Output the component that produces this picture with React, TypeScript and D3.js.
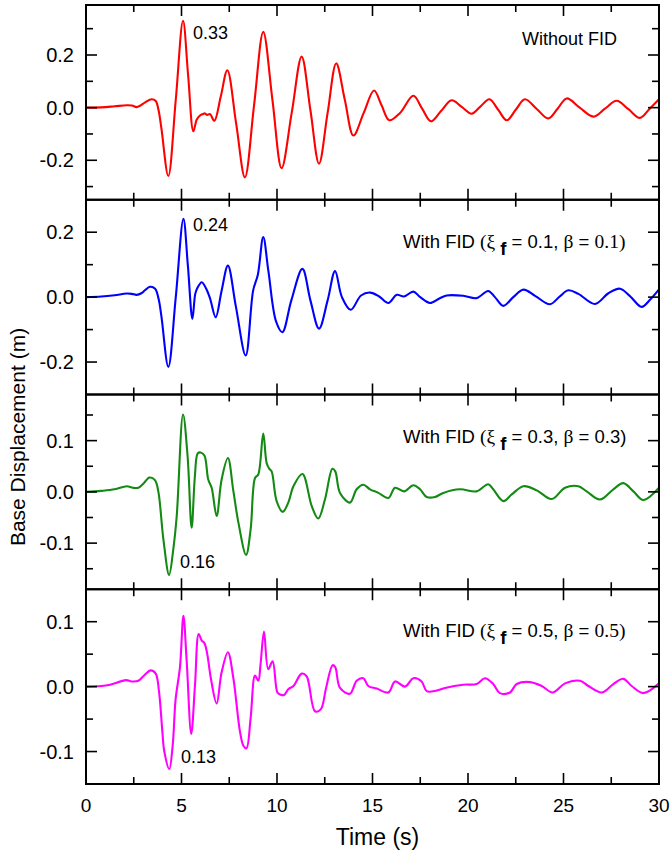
import React from "react";
import * as d3 from "d3";

type Pt = [number, number];

const timeMajor = [0, 5, 10, 15, 20, 25, 30];
const timeMinor = [2.5, 7.5, 12.5, 17.5, 22.5, 27.5];

const withoutFID: Pt[] = [
  [0, 0], [0.8, 0.001], [1.5, 0.005], [2.13, 0.009], [2.4, 0.008], [2.65, 0.002], [2.85, 0.008], [3.1, 0.02], [3.44, 0.032], [3.65, 0.025], [3.8, -0.01], [3.95, -0.08], [4.31, -0.26], [4.7, 0.03], [5.08, 0.33], [5.35, 0.12], [5.62, -0.09], [5.8, -0.045], [5.97, -0.03], [6.1, -0.025], [6.23, -0.022], [6.35, -0.028], [6.49, -0.024], [6.72, -0.05], [7.05, 0.04], [7.4, 0.142], [7.86, -0.06], [8.32, -0.265], [8.8, 0.01], [9.28, 0.288], [9.76, 0.03], [10.24, -0.23], [10.77, -0.02], [11.29, 0.194], [11.75, -0.01], [12.2, -0.213], [12.65, -0.02], [13.1, 0.168], [13.55, 0.03], [14.0, -0.106], [14.54, -0.02], [15.08, 0.065], [15.48, 0.008], [15.88, -0.048], [16.44, -0.02], [17.14, 0.045], [17.6, -0.004], [18.06, -0.052], [18.6, -0.012], [19.14, 0.028], [19.67, 0.003], [20.19, -0.023], [20.66, 0.005], [21.12, 0.032], [21.58, -0.008], [22.03, -0.048], [22.5, -0.008], [22.98, 0.032], [23.6, -0.005], [24.2, -0.041], [24.7, -0.003], [25.17, 0.035], [25.85, 0.0], [26.56, -0.034], [27.17, -0.004], [27.78, 0.026], [28.4, -0.006], [29.0, -0.039], [29.5, -0.005], [30, 0.032],
];

const fid01: Pt[] = [
  [0, 0], [0.8, 0.002], [1.5, 0.006], [2.13, 0.011], [2.4, 0.01], [2.65, 0.007], [2.9, 0.012], [3.1, 0.022], [3.35, 0.032], [3.62, 0.026], [3.8, -0.005], [3.95, -0.06], [4.31, -0.215], [4.7, 0.0], [5.1, 0.241], [5.33, 0.1], [5.57, -0.067], [5.72, 0.01], [5.83, 0.028], [6.06, 0.046], [6.3, 0.025], [6.5, -0.005], [6.79, -0.062], [7.1, 0.02], [7.43, 0.097], [7.85, -0.03], [8.36, -0.18], [8.75, 0.02], [9.0, 0.07], [9.28, 0.185], [9.55, 0.08], [9.95, -0.075], [10.28, -0.108], [10.75, -0.01], [11.33, 0.087], [11.75, -0.01], [12.2, -0.097], [12.65, -0.01], [13.04, 0.08], [13.4, 0.0], [13.86, -0.039], [14.4, 0.005], [14.87, 0.014], [15.35, 0.002], [15.83, -0.018], [16.27, 0.007], [16.65, 0.002], [17.14, 0.017], [17.5, 0.0], [18.01, -0.018], [18.5, -0.004], [18.88, 0.005], [19.75, 0.004], [20.45, -0.003], [21.06, 0.019], [21.41, 0.0], [21.85, -0.027], [22.37, 0.0], [22.9, 0.023], [23.51, 0.004], [24.29, -0.022], [24.8, 0.002], [25.25, 0.021], [25.78, 0.01], [26.65, -0.021], [27.35, 0.012], [27.96, 0.026], [28.5, 0.002], [29.09, -0.03], [29.53, -0.008], [30, 0.024],
];

const fid03: Pt[] = [
  [0, 0], [0.8, 0.002], [1.5, 0.005], [2.13, 0.011], [2.45, 0.008], [2.74, 0.008], [3.0, 0.016], [3.32, 0.028], [3.61, 0.023], [3.79, 0.0], [4.05, -0.092], [4.35, -0.162], [4.57, -0.112], [4.75, -0.047], [5.08, 0.151], [5.32, 0.069], [5.53, -0.07], [5.7, 0.03], [5.85, 0.075], [6.0, 0.077], [6.2, 0.071], [6.4, 0.024], [6.58, 0.008], [6.84, -0.047], [7.1, 0.024], [7.43, 0.066], [7.71, 0.003], [7.98, -0.06], [8.38, -0.123], [8.62, -0.073], [8.85, 0.027], [9.02, 0.034], [9.28, 0.114], [9.46, 0.056], [9.6, 0.045], [9.72, 0.04], [9.98, -0.018], [10.3, -0.039], [10.59, -0.021], [10.86, 0.011], [11.33, 0.035], [11.82, -0.028], [12.16, -0.052], [12.51, -0.015], [12.9, 0.045], [13.05, 0.04], [13.3, -0.002], [13.82, -0.021], [14.17, 0.005], [14.52, 0.014], [14.87, 0.005], [15.31, -0.002], [15.83, -0.012], [16.18, 0.008], [16.65, 0.001], [17.14, 0.013], [17.49, 0.005], [17.84, -0.01], [18.27, -0.01], [18.71, -0.002], [19.58, 0.005], [20.45, 0.001], [21.06, 0.015], [21.32, 0.005], [21.85, -0.018], [22.29, -0.005], [22.9, 0.011], [23.6, 0.003], [24.38, -0.014], [25.08, 0.008], [25.78, 0.011], [26.21, 0.001], [26.91, -0.015], [27.61, 0.005], [28.13, 0.017], [28.66, 0.001], [29.18, -0.016], [30, 0.008],
];

const fid05: Pt[] = [
  [0, 0], [0.8, 0.001], [1.26, 0.003], [2.09, 0.01], [2.39, 0.008], [2.74, 0.009], [3.0, 0.016], [3.39, 0.025], [3.65, 0.02], [3.82, -0.007], [4.0, -0.07], [4.1, -0.1], [4.36, -0.127], [4.54, -0.09], [4.69, -0.02], [4.92, 0.03], [5.1, 0.109], [5.27, 0.04], [5.51, -0.073], [5.71, 0.004], [5.9, 0.081], [6.06, 0.071], [6.2, 0.067], [6.35, 0.05], [6.53, 0.014], [6.84, -0.026], [7.1, 0.022], [7.43, 0.053], [7.71, 0.014], [8.06, -0.069], [8.24, -0.091], [8.4, -0.095], [8.62, -0.048], [8.85, 0.017], [9.02, 0.009], [9.14, 0.035], [9.32, 0.085], [9.54, 0.027], [9.77, 0.039], [10.02, -0.009], [10.16, -0.012], [10.37, -0.013], [10.59, -0.004], [10.86, 0.001], [11.29, 0.02], [11.55, 0.016], [11.99, -0.038], [12.29, -0.035], [12.57, -0.002], [12.91, 0.033], [13.05, 0.03], [13.3, -0.002], [13.82, -0.011], [14.17, 0.009], [14.52, 0.013], [14.78, 0.001], [15.22, -0.003], [15.83, -0.009], [16.18, 0.008], [16.7, 0.0], [17.14, 0.013], [17.57, 0.008], [17.84, -0.007], [18.36, -0.006], [18.8, -0.002], [19.75, 0.003], [20.45, 0.004], [20.89, 0.013], [21.32, 0.004], [21.67, -0.01], [22.2, -0.009], [22.55, 0.004], [23.25, 0.007], [23.86, 0.001], [24.43, -0.009], [25.08, 0.005], [25.86, 0.009], [26.3, 0.001], [27.0, -0.009], [27.61, 0.004], [28.13, 0.012], [28.57, 0.001], [29.18, -0.01], [30, 0.005],
];

const yDomains: [number, number][] = [[-0.35, 0.39], [-0.3, 0.3], [-0.19, 0.19], [-0.15, 0.15]];
const yMajor: number[][] = [[-0.2, 0, 0.2], [-0.2, 0, 0.2], [-0.1, 0, 0.1], [-0.1, 0, 0.1]];
const yMajorLabels: string[][] = [["-0.2", "0.0", "0.2"], ["-0.2", "0.0", "0.2"], ["-0.1", "0.0", "0.1"], ["-0.1", "0.0", "0.1"]];
const yMinor: number[][] = [[-0.3, -0.1, 0.1, 0.3], [-0.1, 0.1], [-0.15, -0.05, 0.05, 0.15], [-0.05, 0.05]];
const seriesColors = ["#ff0000", "#0000ff", "#138a13", "#ff00ff"];
const seriesData = [withoutFID, fid01, fid03, fid05];
const peakLabels = ["0.33", "0.24", "0.16", "0.13"];
// label anchor (time, displacement) of the text baseline
const peakLabelAt: Pt[] = [[5.6, 0.261], [5.6, 0.204], [4.92, -0.1485], [4.97, -0.118]];
const fidValues = ["", "0.1", "0.3", "0.5"];

const SANS = "'Liberation Sans', Arial, sans-serif";
const SERIF = "'Liberation Serif', 'Times New Roman', serif";

const L = 86, R = 659, TOP = 5, BOT = 784;
const PH = (BOT - TOP) / 4;

export default function App() {
  const x = d3.scaleLinear().domain([0, 30]).range([L, R]);
  return (
    <svg width={671} height={853} style={{ position: "absolute", left: 0, top: 0, background: "#fff" }}>
      <rect x={0} y={0} width={671} height={853} fill="#fff" />
      {seriesData.map((data, i) => {
        const top = TOP + i * PH;
        const bot = top + PH;
        const y = d3.scaleLinear().domain(yDomains[i]).range([bot, top]);
        const line = d3.line<Pt>().x(d => x(d[0])).y(d => y(d[1])).curve(d3.curveCatmullRom.alpha(0.5));
        return (
          <g key={i}>
            <defs>
              <clipPath id={`clip${i}`}><rect x={L} y={top} width={R - L} height={PH} /></clipPath>
            </defs>
            <path d={line(data) || ""} fill="none" stroke={seriesColors[i]} strokeWidth={2.1} clipPath={`url(#clip${i})`} strokeLinejoin="round" />
            {timeMajor.map(t => (
              <g key={"M" + t}>
                <line x1={x(t)} x2={x(t)} y1={top} y2={top + 11} stroke="#000" strokeWidth={1.6} />
                <line x1={x(t)} x2={x(t)} y1={bot} y2={bot - 11} stroke="#000" strokeWidth={1.6} />
              </g>
            ))}
            {timeMinor.map(t => (
              <g key={"m" + t}>
                <line x1={x(t)} x2={x(t)} y1={top} y2={top + 7} stroke="#000" strokeWidth={1.6} />
                <line x1={x(t)} x2={x(t)} y1={bot} y2={bot - 7} stroke="#000" strokeWidth={1.6} />
              </g>
            ))}
            {yMajor[i].map((v, k) => (
              <g key={"yM" + v}>
                <line x1={L} x2={L + 11} y1={y(v)} y2={y(v)} stroke="#000" strokeWidth={1.6} />
                <line x1={R} x2={R - 11} y1={y(v)} y2={y(v)} stroke="#000" strokeWidth={1.6} />
                <text x={74} y={y(v) + 7} textAnchor="end" fontFamily={SANS} fontSize={20} fill="#000">{yMajorLabels[i][k]}</text>
              </g>
            ))}
            {yMinor[i].map(v => (
              <g key={"ym" + v}>
                <line x1={L} x2={L + 7} y1={y(v)} y2={y(v)} stroke="#000" strokeWidth={1.6} />
                <line x1={R} x2={R - 7} y1={y(v)} y2={y(v)} stroke="#000" strokeWidth={1.6} />
              </g>
            ))}
            <text x={x(peakLabelAt[i][0])} y={y(peakLabelAt[i][1])} fontFamily={SANS} fontSize={18} fill="#000">{peakLabels[i]}</text>
            {i === 0 ? (
              <text x={522} y={top + 40} fontFamily={SANS} fontSize={18} fill="#000">Without FID</text>
            ) : (
              <text x={403} y={top + 48} fontFamily={SANS} fontSize={18.5} fill="#000">
                <tspan>With FID </tspan>
                <tspan fontFamily={SERIF} fontSize={19.5}>(ξ</tspan>
                <tspan dx={5} dy={7} fontWeight="bold" fontSize={18.5}>f</tspan>
                <tspan dy={-7}>{` = ${fidValues[i]}, `}</tspan>
                <tspan fontFamily={SERIF} fontSize={19.5}>β</tspan>
                <tspan>{" = "}</tspan>
                <tspan fontFamily={i === 2 ? SANS : SERIF} fontSize={i === 2 ? 18.5 : 19.5}>{`${fidValues[i]})`}</tspan>
              </text>
            )}
            <rect x={L} y={top} width={R - L} height={PH} fill="none" stroke="#000" strokeWidth={2} />
          </g>
        );
      })}
      {timeMajor.map(t => (
        <text key={"xl" + t} x={x(t)} y={812} textAnchor="middle" fontFamily={SANS} fontSize={19} fill="#000">{t}</text>
      ))}
      <text x={(L + R) / 2 + 5} y={845} textAnchor="middle" fontFamily={SANS} fontSize={23} fill="#000">Time (s)</text>
      <text transform={`translate(25, 437) rotate(-90)`} textAnchor="middle" fontFamily={SANS} fontSize={21} fill="#000">Base Displacement (m)</text>
    </svg>
  );
}
